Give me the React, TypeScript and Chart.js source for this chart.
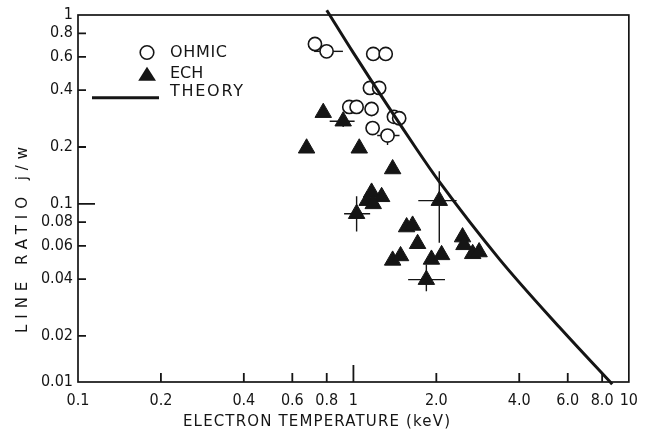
import React, { useEffect, useRef } from "react";
import { Chart, registerables } from "chart.js";

Chart.register(...registerables);

// OHMIC (open circles)
const ohmicT = [0.725, 0.799, 1.18, 1.31, 1.148, 1.24, 0.966, 1.027, 1.164, 1.403, 1.466, 1.174, 1.33];
const ohmicRatio = [0.702, 0.642, 0.622, 0.622, 0.411, 0.411, 0.326, 0.326, 0.318, 0.289, 0.284, 0.252, 0.23];

// ECH (filled triangles)
const echT = [0.676, 0.777, 0.918, 1.05, 1.388, 1.164, 1.122, 1.266, 1.18, 1.027, 2.05, 1.56, 1.64, 1.71, 2.49, 2.52, 2.71, 2.86, 1.388, 1.483, 1.92, 2.09, 1.84];
const echRatio = [0.197, 0.304, 0.274, 0.197, 0.153, 0.115, 0.104, 0.109, 0.1, 0.0887, 0.104, 0.0754, 0.0769, 0.0615, 0.0667, 0.0607, 0.0544, 0.0556, 0.0502, 0.053, 0.0508, 0.0537, 0.0397];

// THEORY curve
const theoryT = [0.8, 1.0, 1.7, 2.05, 3.4, 5.6, 8.7];
const theoryRatio = [1.06, 0.63, 0.194, 0.131, 0.0507, 0.0222, 0.0111];

// Error bars
const errSeries = ["OHMIC", "OHMIC", "ECH", "ECH", "ECH", "ECH"];
const errIndex = [1, 12, 2, 9, 10, 22];
const errTLow = [0.72, 1.22, 0.82, 0.925, 1.72, 1.58];
const errTHigh = [0.916, 1.47, 1.01, 1.15, 2.37, 2.15];
const errRLow = [null, 0.205, 0.255, 0.0715, 0.0622, 0.0345];
const errRHigh = [null, 0.23, 0.29, 0.1097, 0.149, 0.0477];

// Axis ticks
const xTicks = [0.1, 0.2, 0.4, 0.6, 0.8, 1, 2, 4, 6, 8, 10];
const xTickLabels = ["0.1", "0.2", "0.4", "0.6", "0.8", "1", "2.0", "4.0", "6.0", "8.0", "10"];
const yTicks = [0.01, 0.02, 0.04, 0.06, 0.08, 0.1, 0.2, 0.4, 0.6, 0.8, 1];
const yTickLabels = ["0.01", "0.02", "0.04", "0.06", "0.08", "0.1", "0.2", "0.4", "0.6", "0.8", "1"];
const Y_MIN = 0.0114;
const Y_MAX = 1;

const FONT = "'DejaVu Sans Condensed', 'DejaVu Sans', sans-serif";
const TITLE_FONT = "'DejaVu Sans', sans-serif";
const INK = "#151515";

function drawSpaced(ctx: CanvasRenderingContext2D, text: string, x: number, y: number, target: number) {
  (ctx as any).letterSpacing = "0px";
  const w0 = ctx.measureText(text).width;
  const n = text.length;
  const s = n > 1 ? Math.max(0, (target - w0) / (n - 1)) : 0;
  (ctx as any).letterSpacing = s + "px";
  ctx.textAlign = "left";
  ctx.textBaseline = "middle";
  ctx.fillText(text, x, y);
  (ctx as any).letterSpacing = "0px";
}

const errorBarPlugin = {
  id: "errorBars",
  beforeDatasetsDraw(chart: any) {
    const { ctx, scales } = chart;
    const xs = scales.x;
    const ys = scales.y;
    ctx.save();
    ctx.strokeStyle = INK;
    ctx.lineWidth = 1.4;
    for (let k = 0; k < errIndex.length; k++) {
      const i = errIndex[k];
      const t = errSeries[k] === "OHMIC" ? ohmicT[i] : echT[i];
      const r = errSeries[k] === "OHMIC" ? ohmicRatio[i] : echRatio[i];
      const px = xs.getPixelForValue(t);
      const py = ys.getPixelForValue(r);
      ctx.beginPath();
      ctx.moveTo(xs.getPixelForValue(errTLow[k]), py);
      ctx.lineTo(xs.getPixelForValue(errTHigh[k]), py);
      const lo = errRLow[k];
      const hi = errRHigh[k];
      if (lo !== null && hi !== null) {
        ctx.moveTo(px, ys.getPixelForValue(lo as number));
        ctx.lineTo(px, ys.getPixelForValue(hi as number));
      }
      ctx.stroke();
    }
    ctx.restore();
  },
};

const framePlugin = {
  id: "frameAndLabels",
  afterDraw(chart: any) {
    const { ctx, chartArea, scales } = chart;
    const { left, right, top, bottom } = chartArea;
    ctx.save();
    ctx.strokeStyle = INK;
    ctx.lineWidth = 1.7;
    ctx.strokeRect(left, top, right - left, bottom - top);
    // inner tick marks
    ctx.lineWidth = 1.8;
    ctx.beginPath();
    for (const v of xTicks) {
      if (v === 0.1 || v === 10) continue;
      const px = scales.x.getPixelForValue(v);
      const len = v === 1 ? 17 : 9;
      ctx.moveTo(px, bottom);
      ctx.lineTo(px, bottom - len);
    }
    for (const v of yTicks) {
      if (v === 0.01 || v === 1) continue;
      const py = scales.y.getPixelForValue(v);
      const len = v === 0.1 ? 17 : 8;
      ctx.moveTo(left, py);
      ctx.lineTo(left + len, py);
    }
    ctx.stroke();

    // axis titles
    ctx.fillStyle = INK;
    ctx.font = `15px ${TITLE_FONT}`;
    drawSpaced(ctx, "ELECTRON TEMPERATURE (keV)", 183, 422, 267);
    ctx.save();
    ctx.translate(23, 240);
    ctx.rotate(-Math.PI / 2);
    ctx.font = `15px ${TITLE_FONT}`;
    drawSpaced(ctx, "LINE RATIO j/w", -93, 0, 186);
    ctx.restore();

    // legend
    ctx.font = `16px ${TITLE_FONT}`;
    ctx.lineWidth = 1.6;
    ctx.fillStyle = "#ffffff";
    ctx.beginPath();
    ctx.arc(147, 52.5, 6.8, 0, Math.PI * 2);
    ctx.fill();
    ctx.stroke();
    ctx.fillStyle = INK;
    drawSpaced(ctx, "OHMIC", 170, 53, 57);
    ctx.beginPath();
    ctx.moveTo(147, 66.7);
    ctx.lineTo(156, 80.7);
    ctx.lineTo(138.2, 80.7);
    ctx.closePath();
    ctx.fill();
    drawSpaced(ctx, "ECH", 170, 74.2, 33);
    ctx.lineWidth = 3;
    ctx.beginPath();
    ctx.moveTo(92, 97.7);
    ctx.lineTo(159, 97.7);
    ctx.stroke();
    drawSpaced(ctx, "THEORY", 170, 92, 73);
    ctx.restore();
  },
};

export default function App() {
  const ref = useRef<HTMLCanvasElement | null>(null);

  useEffect(() => {
    document.body.style.margin = "0";
    const canvas = ref.current;
    if (!canvas) return;
    const tickFont = { family: FONT, size: 16 };
    const chart = new Chart(canvas, {
      type: "scatter",
      data: {
        datasets: [
          {
            label: "THEORY",
            type: "line",
            data: theoryT.map((t, i) => ({ x: t, y: theoryRatio[i] })),
            borderColor: INK,
            borderWidth: 3,
            pointRadius: 0,
            cubicInterpolationMode: "monotone",
            fill: false,
            clip: false,
          } as any,
          {
            label: "OHMIC",
            data: ohmicT.map((t, i) => ({ x: t, y: ohmicRatio[i] })),
            pointStyle: "circle",
            pointRadius: 6.6,
            backgroundColor: "#ffffff",
            borderColor: INK,
            borderWidth: 1.6,
          },
          {
            label: "ECH",
            data: echT.map((t, i) => ({ x: t, y: echRatio[i] })),
            pointStyle: "triangle",
            pointRadius: 9.5,
            backgroundColor: INK,
            borderColor: INK,
            borderWidth: 1,
          },
        ],
      },
      options: {
        responsive: false,
        animation: false,
        events: [],
        layout: { padding: { top: 15, right: 18, left: 0, bottom: 0 } },
        plugins: { legend: { display: false }, tooltip: { enabled: false } },
        scales: {
          x: {
            type: "logarithmic",
            min: 0.1,
            max: 10,
            position: "bottom",
            grid: { display: false, drawTicks: false },
            border: { display: false },
            ticks: {
              font: tickFont,
              color: INK,
              padding: 9,
              autoSkip: false,
              maxRotation: 0,
              callback: (_v: any, i: number) => xTickLabels[i],
            },
            afterBuildTicks: (s: any) => {
              s.ticks = xTicks.map((v) => ({ value: v }));
            },
            afterFit: (s: any) => {
              s.height = 66;
            },
          },
          y: {
            type: "logarithmic",
            min: Y_MIN,
            max: Y_MAX,
            position: "left",
            grid: { display: false, drawTicks: false },
            border: { display: false },
            ticks: {
              font: tickFont,
              color: INK,
              padding: 5,
              autoSkip: false,
              callback: (_v: any, i: number) => yTickLabels[i],
            },
            afterBuildTicks: (s: any) => {
              s.ticks = yTicks.map((v) => ({ value: Math.max(v, Y_MIN) }));
            },
            afterFit: (s: any) => {
              s.width = 78;
            },
          },
        },
      } as any,
      plugins: [errorBarPlugin, framePlugin],
    });
    return () => chart.destroy();
  }, []);

  return (
    <div style={{ width: 647, height: 448, background: "#fff" }}>
      <canvas ref={ref} width={647} height={448} style={{ display: "block" }} />
    </div>
  );
}
